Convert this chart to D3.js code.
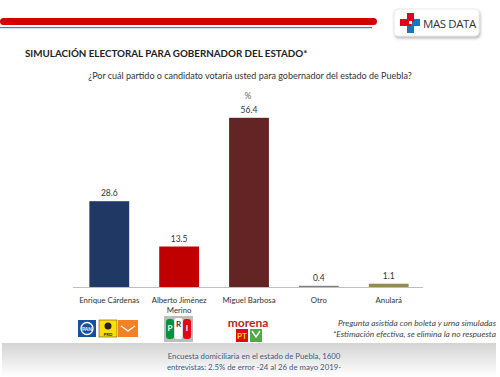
<!DOCTYPE html>
<html>
<head>
<meta charset="utf-8">
<script src="https://cdn.jsdelivr.net/npm/d3@7"></script>
<style>
  body { margin: 0; background: #fff; }
  svg { display: block; font-family: Lato, "Open Sans", sans-serif; }
</style>
</head>
<body>
<div id="chart"></div>
<script>
// chart data
var candidates = ["Enrique Cárdenas", "Alberto Jiménez Merino", "Miguel Barbosa", "Otro", "Anulará"];
var labelLines = [["Enrique Cárdenas"], ["Alberto Jiménez", "Merino"], ["Miguel Barbosa"], ["Otro"], ["Anulará"]];
var values = [28.6, 13.5, 56.4, 0.4, 1.1];
var barColors = ["#1f3864", "#c00000", "#632523", "#7f7f7f", "#948a54"];

var width = 500, height = 377;
var svg = d3.select("#chart").append("svg").attr("width", width).attr("height", height);

var defs = svg.append("defs");
var grad = defs.append("linearGradient").attr("id", "foot").attr("x1", 0).attr("y1", 0).attr("x2", 0).attr("y2", 1);
grad.append("stop").attr("offset", "0%").attr("stop-color", "#d4d4d4");
grad.append("stop").attr("offset", "100%").attr("stop-color", "#ffffff");
var shadow = defs.append("filter").attr("id", "shadow").attr("x", "-20%").attr("y", "-20%").attr("width", "140%").attr("height", "160%");
shadow.append("feDropShadow").attr("dx", 1).attr("dy", 2).attr("stdDeviation", 1.5).attr("flood-opacity", 0.3);

// header bars
svg.append("rect").attr("x", 0).attr("y", 18).attr("width", 377).attr("height", 7).attr("rx", 3.5).attr("fill", "#d40000");
svg.append("rect").attr("x", 0).attr("y", 27).attr("width", 372).attr("height", 1.2).attr("fill", "#2e86c1");

// logo
var logo = svg.append("g").attr("transform", "translate(394,9)");
logo.append("rect").attr("width", 85).attr("height", 27).attr("rx", 4).attr("fill", "#fff")
  .attr("stroke", "#ddd").attr("stroke-width", 0.6).attr("filter", "url(#shadow)");
logo.append("rect").attr("x", 13).attr("y", 4).attr("width", 7).attr("height", 20).attr("fill", "#1a75bc");
logo.append("rect").attr("x", 6).attr("y", 10).attr("width", 20).attr("height", 7).attr("fill", "#1a75bc");
logo.append("rect").attr("x", 6).attr("y", 10).attr("width", 11).attr("height", 7).attr("fill", "#e3001b");
logo.append("rect").attr("x", 13).attr("y", 4).attr("width", 7).attr("height", 9).attr("fill", "#e3001b");
logo.append("rect").attr("x", 15).attr("y", 12).attr("width", 3).attr("height", 3).attr("fill", "#fff");
logo.append("text").attr("x", 29).attr("y", 18.5).attr("font-size", 11.5).attr("fill", "#333")
  .attr("font-family", "'Open Sans', sans-serif").attr("letter-spacing", -0.4).text("MAS DATA");

// titles
svg.append("text").attr("x", 25).attr("y", 57).attr("font-size", 9.8).attr("font-weight", "bold")
  .attr("fill", "#222").text("SIMULACIÓN ELECTORAL PARA GOBERNADOR DEL ESTADO*");
svg.append("text").attr("x", 250).attr("y", 79).attr("text-anchor", "middle").attr("font-size", 9.0)
  .attr("fill", "#333").text("¿Por cuál partido o candidato votaría usted para gobernador del estado de Puebla?");
svg.append("text").attr("x", 248).attr("y", 99).attr("text-anchor", "middle").attr("font-size", 8.5)
  .attr("fill", "#666").text("%");

// scales
var x = d3.scaleBand().domain(candidates).range([74, 424]).paddingInner(0.43).paddingOuter(0.22);
var y = d3.scaleLinear().domain([0, 60]).range([287, 107]);

svg.selectAll("rect.bar").data(values).enter().append("rect").attr("class", "bar")
  .attr("x", function (d, i) { return x(candidates[i]); })
  .attr("y", function (d) { return y(d); })
  .attr("width", x.bandwidth())
  .attr("height", function (d) { return Math.max(1.5, y(0) - y(d)); })
  .attr("fill", function (d, i) { return barColors[i]; });

svg.selectAll("text.val").data(values).enter().append("text").attr("class", "val")
  .attr("x", function (d, i) { return x(candidates[i]) + x.bandwidth() / 2; })
  .attr("y", function (d) { return y(d) - 5; })
  .attr("text-anchor", "middle").attr("font-size", 8.5).attr("fill", "#333")
  .text(function (d) { return d.toFixed(1); });

// baseline
svg.append("line").attr("x1", 73).attr("x2", 423).attr("y1", y(0) + 0.5).attr("y2", y(0) + 0.5)
  .attr("stroke", "#bfbfbf").attr("stroke-width", 1);

// category labels
var cat = svg.selectAll("text.cat").data(labelLines).enter().append("text").attr("class", "cat")
  .attr("x", function (d, i) { return x(candidates[i]) + x.bandwidth() / 2; })
  .attr("y", 303).attr("text-anchor", "middle").attr("font-size", 7.8).attr("fill", "#333");
cat.selectAll("tspan").data(function (d) { return d; }).enter().append("tspan")
  .attr("x", function () { return d3.select(this.parentNode).attr("x"); })
  .attr("dy", function (d, j) { return j ? 10 : 0; })
  .text(function (d) { return d; });

// party logos
var pl = svg.append("g");
// PAN
pl.append("rect").attr("x", 78).attr("y", 320).attr("width", 18).attr("height", 17).attr("fill", "#1b4f9c");
pl.append("circle").attr("cx", 87).attr("cy", 328.5).attr("r", 6).attr("fill", "none").attr("stroke", "#fff").attr("stroke-width", 1.3);
pl.append("text").attr("x", 87).attr("y", 331).attr("text-anchor", "middle").attr("font-size", 5).attr("font-weight", "bold").attr("fill", "#fff").text("PAN");
// PRD
pl.append("rect").attr("x", 99).attr("y", 320).attr("width", 18).attr("height", 17).attr("fill", "#ffde00").attr("stroke", "#333").attr("stroke-width", 0.5);
pl.append("circle").attr("cx", 108).attr("cy", 326).attr("r", 3.5).attr("fill", "#222");
pl.append("text").attr("x", 108).attr("y", 335.5).attr("text-anchor", "middle").attr("font-size", 4.5).attr("font-weight", "bold").attr("fill", "#222").text("PRD");
// MC
pl.append("rect").attr("x", 118).attr("y", 320).attr("width", 20).attr("height", 17).attr("fill", "#f58025");
pl.append("path").attr("d", "M121,326 L128,331 L135,326").attr("fill", "none").attr("stroke", "#fff").attr("stroke-width", 1.2);
// PRI
pl.append("rect").attr("x", 164).attr("y", 316).attr("width", 29).attr("height", 26).attr("fill", "#bdbdbd");
pl.append("rect").attr("x", 166).attr("y", 319).attr("width", 8).attr("height", 20).attr("rx", 3).attr("fill", "#00923f");
pl.append("rect").attr("x", 174.5).attr("y", 318).attr("width", 8).attr("height", 21).attr("rx", 2).attr("fill", "#fff");
pl.append("rect").attr("x", 183).attr("y", 319).attr("width", 8).attr("height", 20).attr("rx", 3).attr("fill", "#e30613");
pl.append("text").attr("x", 170).attr("y", 331).attr("text-anchor", "middle").attr("font-size", 8).attr("font-weight", "bold").attr("fill", "#fff").text("P");
pl.append("text").attr("x", 178.5).attr("y", 327).attr("text-anchor", "middle").attr("font-size", 8).attr("font-weight", "bold").attr("fill", "#333").text("R");
pl.append("text").attr("x", 187).attr("y", 331).attr("text-anchor", "middle").attr("font-size", 8).attr("font-weight", "bold").attr("fill", "#fff").text("I");
// morena, PT, verde
pl.append("text").attr("x", 248).attr("y", 327).attr("text-anchor", "middle").attr("font-size", 12).attr("font-weight", "bold").attr("fill", "#b5261e").text("morena");
pl.append("rect").attr("x", 236).attr("y", 329).attr("width", 12).attr("height", 13).attr("fill", "#e30613");
pl.append("text").attr("x", 242).attr("y", 339).attr("text-anchor", "middle").attr("font-size", 8).attr("font-weight", "bold").attr("fill", "#ffde00").text("PT");
pl.append("rect").attr("x", 250).attr("y", 329).attr("width", 12).attr("height", 13).attr("fill", "#51a847");
pl.append("path").attr("d", "M252,331 L256,337 L260,331").attr("fill", "none").attr("stroke", "#fff").attr("stroke-width", 1.4);

// notes
svg.append("text").attr("x", 496).attr("y", 326).attr("text-anchor", "end").attr("font-size", 8.4)
  .attr("font-style", "italic").attr("fill", "#444").text("Pregunta asistida con boleta y urna simuladas");
svg.append("text").attr("x", 496).attr("y", 337).attr("text-anchor", "end").attr("font-size", 8.4)
  .attr("font-style", "italic").attr("fill", "#444").text("*Estimación efectiva, se elimina la no respuesta");

// footer
svg.append("rect").attr("x", 2).attr("y", 343).attr("width", 494).attr("height", 34).attr("fill", "url(#foot)");
svg.append("text").attr("x", 254).attr("y", 359).attr("text-anchor", "middle").attr("font-size", 7.8)
  .attr("fill", "#3d5a80").text("Encuesta domiciliaria en el estado de Puebla, 1600");
svg.append("text").attr("x", 254).attr("y", 370).attr("text-anchor", "middle").attr("font-size", 7.8)
  .attr("fill", "#3d5a80").text("entrevistas: 2.5% de error -24 al 26 de mayo 2019-");
</script>
</body>
</html>
